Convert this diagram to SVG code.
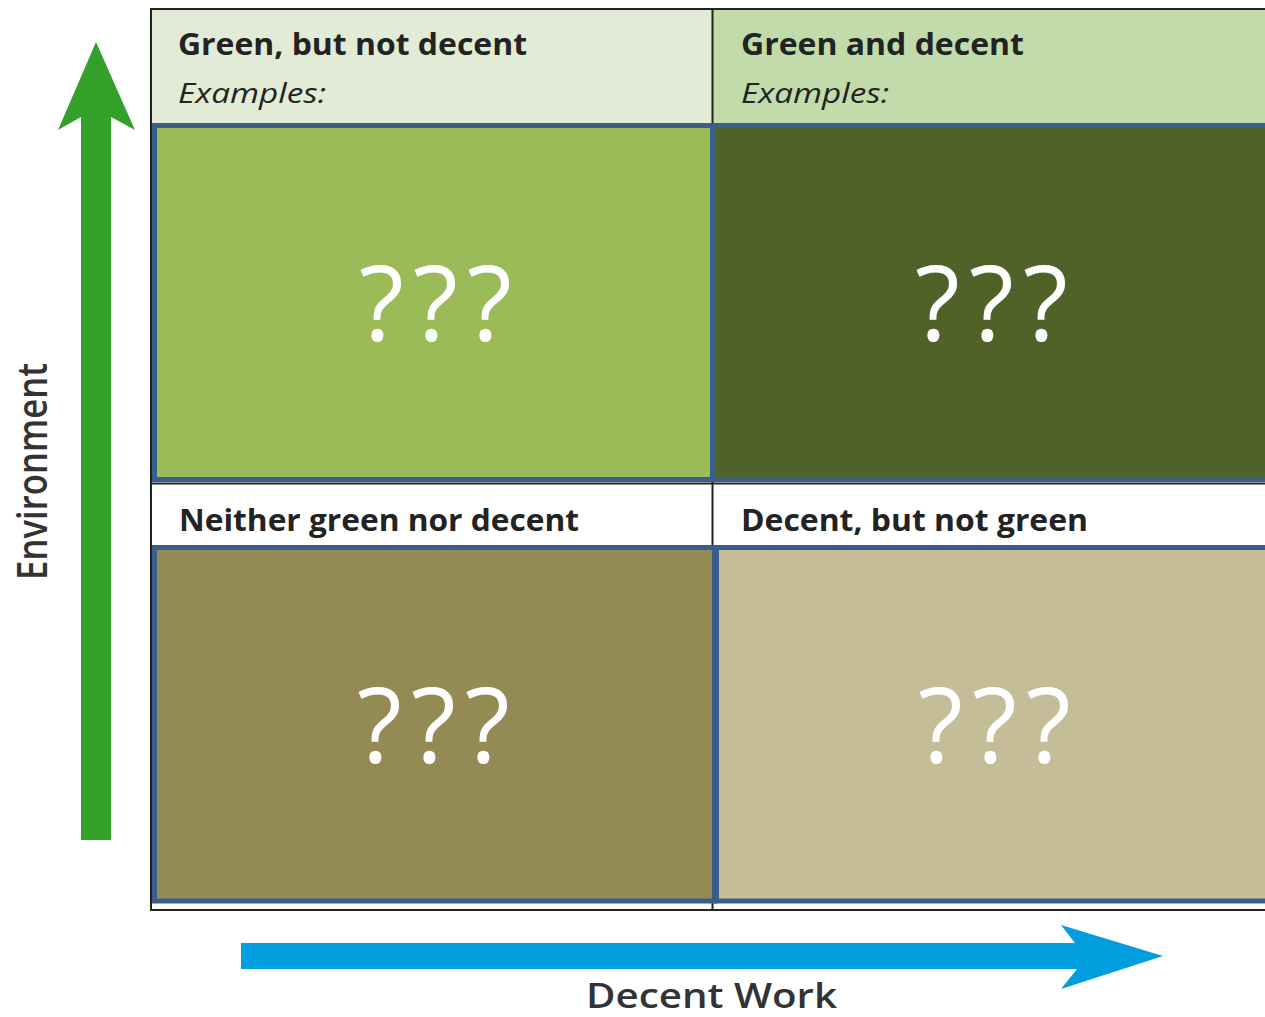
<svg xmlns="http://www.w3.org/2000/svg" width="1265" height="1017" viewBox="0 0 1265 1017">
<style>
.hdr{font-family:"Open Sans","Liberation Sans",sans-serif;font-weight:700;font-size:30px;fill:#232323}
.ex{font-family:"Open Sans","Liberation Sans",sans-serif;font-style:italic;font-size:28px;fill:#232323}
.q{font-family:"Open Sans","DejaVu Sans",sans-serif;font-size:104px;fill:#ffffff}
.cell{stroke:#3a5e8b;stroke-width:5}
.frame{stroke:#222222;stroke-width:2;fill:none}
.axis{font-family:"Open Sans","Liberation Sans",sans-serif;font-weight:600;fill:#333333}
</style>
<rect x="0" y="0" width="1265" height="1017" fill="#ffffff"/>
<g id="frame">
<rect x="152" y="10" width="561" height="115" fill="#e1ebd5"/>
<rect x="713" y="10" width="560" height="115" fill="#c2dbab"/>
<rect x="151" y="9" width="1130" height="901" class="frame"/>
<line x1="712.5" y1="9" x2="712.5" y2="910" class="frame"/>
<line x1="151" y1="483.5" x2="1265" y2="483.5" class="frame"/>
</g>
<g id="green-not-decent">
<rect x="154.5" y="125.5" width="558" height="354" fill="#9bbb59" class="cell"/>
<text class="hdr" x="178" y="55" textLength="349" lengthAdjust="spacingAndGlyphs">Green, but not decent</text>
<text class="ex" x="178" y="103" textLength="148" lengthAdjust="spacingAndGlyphs">Examples:</text>
<text class="q" x="359 413 467" y="341">???</text>
</g>
<g id="green-and-decent">
<rect x="712.5" y="125.5" width="560" height="354" fill="#4f6228" class="cell"/>
<text class="hdr" x="741" y="55" textLength="283" lengthAdjust="spacingAndGlyphs">Green and decent</text>
<text class="ex" x="741" y="103" textLength="148" lengthAdjust="spacingAndGlyphs">Examples:</text>
<text class="q" x="915 969 1023" y="341">???</text>
</g>
<g id="neither">
<rect x="154.5" y="547.5" width="560" height="353.5" fill="#948a54" class="cell"/>
<text class="hdr" x="179" y="531" textLength="400" lengthAdjust="spacingAndGlyphs">Neither green nor decent</text>
<text class="q" x="357 411 465" y="763">???</text>
</g>
<g id="decent-not-green">
<rect x="716.5" y="547.5" width="560" height="353.5" fill="#c4bd97" class="cell"/>
<text class="hdr" x="741" y="531" textLength="347" lengthAdjust="spacingAndGlyphs">Decent, but not green</text>
<text class="q" x="918 972 1026" y="763">???</text>
</g>
<g id="axes">
<path d="M96,42 L135,130 L111,117 L111,840 L81,840 L81,117 L58,130 Z" fill="#33a02a"/>
<path d="M241,943 L1075,943 L1061,925 L1163,956 L1061,989 L1077,969 L241,969 Z" fill="#009ddf"/>
<text class="axis" font-size="42" transform="translate(47,580) rotate(-90)" textLength="217" lengthAdjust="spacingAndGlyphs">Environment</text>
<text class="axis" font-size="35" x="586" y="1008" textLength="251" lengthAdjust="spacingAndGlyphs">Decent Work</text>
</g>
</svg>
